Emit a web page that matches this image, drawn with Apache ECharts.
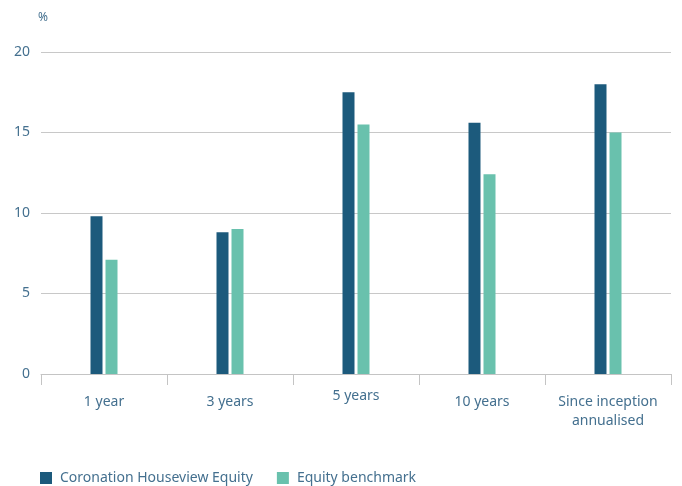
<!DOCTYPE html>
<html>
<head>
<meta charset="utf-8">
<script src="https://cdn.jsdelivr.net/npm/echarts@6/dist/echarts.min.js"></script>
<style>
  html, body { margin: 0; padding: 0; background: #ffffff; }
  #chart { width: 682px; height: 486px; }
</style>
</head>
<body>
<div id="chart"></div>
<script>
// Performance periods
const categories = ['1 year', '3 years', '5 years', '10 years', 'Since inception\nannualised'];
// Annualised returns, %
const fundReturns = [9.8, 8.8, 17.5, 15.6, 18.0];
const benchmarkReturns = [7.1, 9.0, 15.5, 12.4, 15.0];
const seriesNames = ['Coronation Houseview Equity', 'Equity benchmark'];
const yTicks = { min: 0, max: 20, step: 5 };

const textColor = '#44708f';
const font = '"Noto Sans", "Open Sans", sans-serif';

const chart = echarts.init(document.getElementById('chart'), null, { renderer: 'canvas' });

chart.setOption({
  animation: false,
  backgroundColor: '#ffffff',
  color: ['#1c5a7c', '#69c1ad'],
  grid: { left: 41, right: 11, top: 52, bottom: 112, containLabel: false },
  legend: {
    left: 35,
    bottom: -4,
    itemWidth: 12,
    itemHeight: 12,
    itemGap: 24,
    icon: 'rect',
    textStyle: { color: textColor, fontSize: 14, fontFamily: font, padding: [0, 0, 0, 3] },
    data: seriesNames
  },
  xAxis: {
    type: 'category',
    data: categories.map((c, i) => i === 2
      ? { value: c, textStyle: { lineHeight: 6 } }
      : c),
    axisLine: { show: true, lineStyle: { color: '#c4c4c4', width: 1 } },
    axisTick: { show: true, length: 11, lineStyle: { color: '#c4c4c4' } },
    axisLabel: {
      color: textColor, fontSize: 14, fontFamily: font,
      margin: 19, lineHeight: 19, interval: 0
    }
  },
  yAxis: {
    type: 'value',
    min: yTicks.min,
    max: yTicks.max,
    interval: yTicks.step,
    name: '%',
    nameGap: 28,
    nameTextStyle: { color: textColor, fontSize: 12, fontFamily: font, align: 'left', padding: [0, 0, 0, -3] },
    axisLine: { show: false },
    axisTick: { show: false },
    axisLabel: { color: textColor, fontSize: 14, fontFamily: font, margin: 11 },
    splitLine: { lineStyle: { color: '#c8c8c8', width: 1 } }
  },
  series: [
    {
      name: seriesNames[0],
      type: 'bar',
      data: fundReturns,
      barWidth: 12,
      barGap: '25%'
    },
    {
      name: seriesNames[1],
      type: 'bar',
      data: benchmarkReturns,
      barWidth: 12,
      barGap: '25%'
    }
  ]
});
</script>
</body>
</html>
